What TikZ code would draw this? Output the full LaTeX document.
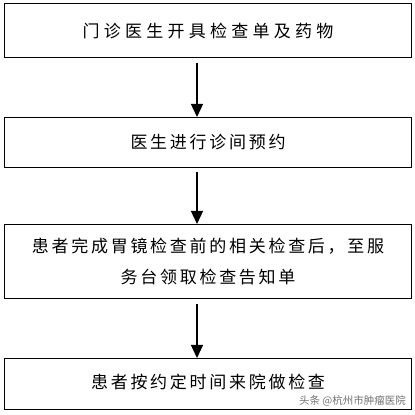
\documentclass[tikz,border=0pt]{standalone}
\usepackage{fontspec}
\newfontfamily\cjk[LetterSpace=16]{Noto Sans CJK SC}
\newfontfamily\cjkw[LetterSpace=25]{Noto Sans CJK SC}
\newfontfamily\cjkmark{Noto Sans CJK SC}
\usetikzlibrary{arrows.meta}
\begin{document}
\begin{tikzpicture}[x=1pt,y=1pt,
  stepbox/.style={draw=black,line width=1.1pt,minimum width=407pt,inner sep=0pt,anchor=north west},
  flowarrow/.style={line width=1.3pt,-{Triangle[width=12pt,length=13pt]}}]
\useasboundingbox[fill=white] (0,0) rectangle (415,415);
\node[stepbox,minimum height=54pt,font=\cjkw\fontsize{17}{20}\selectfont] (b1) at (4,412) {门诊医生开具检查单及药物};
\node[stepbox,minimum height=50pt,font=\cjk\fontsize{17}{20}\selectfont] (b2) at (4,298) {医生进行诊间预约};
\node[stepbox,minimum height=74pt,font=\cjk\fontsize{17}{20}\selectfont,align=center] (b3) at (4,191) {\raisebox{-3pt}{\shortstack{患者完成胃镜检查前的相关检查后，至服\\[11pt]务台领取检查告知单}}};
\node[stepbox,minimum height=51pt,font=\cjk\fontsize{17}{20}\selectfont] (b4) at (4,57) {\raisebox{5pt}{患者按约定时间来院做检查}};
\coordinate (a1) at (197,352);
\coordinate (a2) at (197,243);
\coordinate (a3) at (197,111);
\draw[flowarrow] (a1) -- (a1 |- b2.north);
\draw[flowarrow] (a2) -- (a2 |- b3.north);
\draw[flowarrow] (a3) -- (a3 |- b4.north);
\node[font=\cjkmark\fontsize{10.5}{12}\selectfont,text=black!55,anchor=east,inner sep=0pt] (wm) at (406,14) {头条 @杭州市肿瘤医院};
\end{tikzpicture}
\end{document}
